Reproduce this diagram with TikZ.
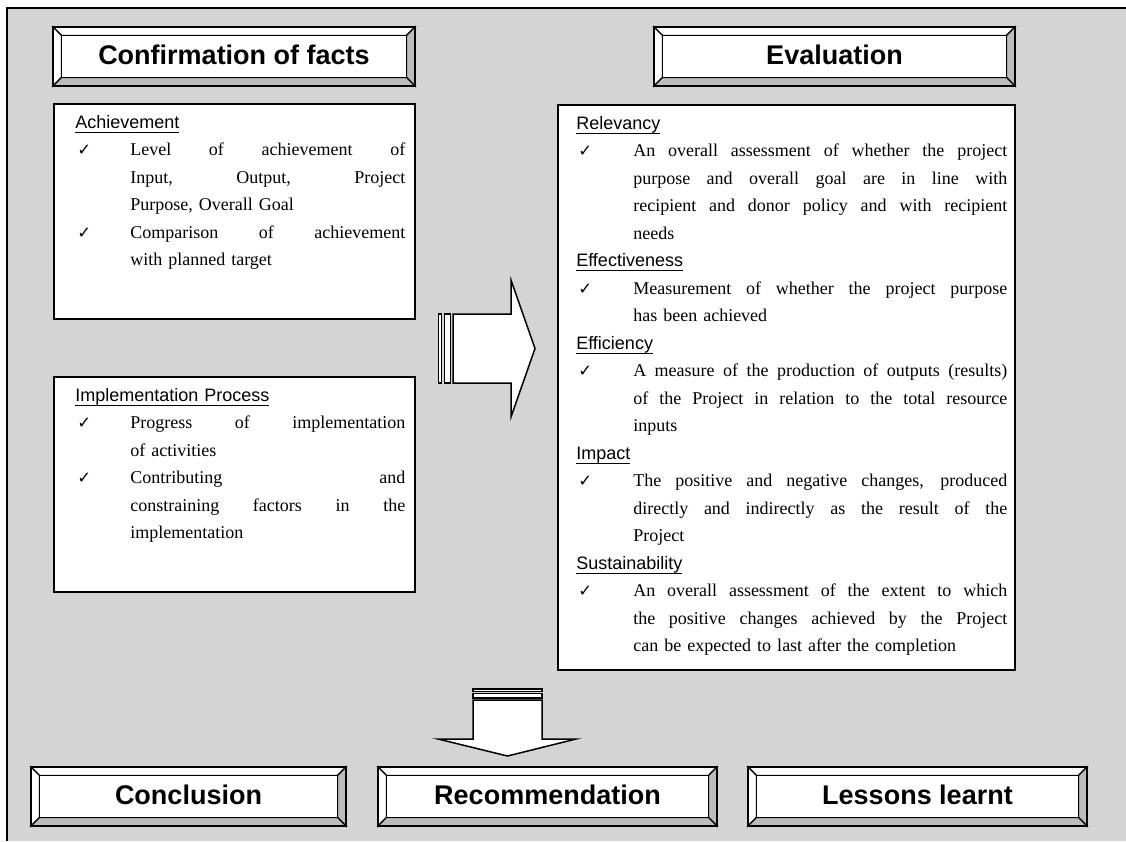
\documentclass[tikz,border=0pt]{standalone}
\usepackage{fontspec}
\setmainfont{Liberation Serif}
\newfontfamily\arial{Liberation Sans}
\newfontfamily\dejavu{DejaVu Sans}
\definecolor{bggray}{RGB}{212,212,212}
\definecolor{bevgray}{RGB}{188,188,188}
\def\myhI{36.67pt}\def\mytw{183.33pt}\def\mycI{1.33pt}
\newcommand\ulx[1]{\setbox0=\hbox{#1}\rlap{\rule[-3.1pt]{\wd0}{0.9pt}}\box0}
\newcommand\hd[1]{\noindent\strut{\arial\ulx{#1}}\par}
\newcommand\chk[1]{\noindent\strut\hbox to \myhI{\hskip\mycI{\dejavu\fontsize{11pt}{11pt}\selectfont ✓}\hss}\hbox to \mytw{\spaceskip=0pt\xspaceskip=0pt #1}\par}
\newcommand\jl[1]{\noindent\strut\hskip\myhI\hbox to \mytw{\spaceskip=0pt\xspaceskip=0pt #1}\par}
\newcommand\ls[1]{\noindent\strut\hskip\myhI #1\par}
\tikzset{
  bev/.style={draw=black, line width=0.9pt, line join=miter},
  hdr/.style={anchor=base, inner sep=0pt, font=\arial\bfseries\fontsize{18pt}{20pt}\selectfont},
  content/.style={draw=black, fill=white, line width=1pt},
  txt/.style={anchor=north west, inner sep=0pt, font=\fontsize{12pt}{18.33pt}\selectfont},
  arrowshape/.style={draw=black, fill=white, line width=1pt, line join=miter},
}
\newcommand\bevbox[6]{%
\filldraw[bev, fill=white] (#2,#3) -- (#4,#3) -- ({#4-8.5},{#3+8.5}) -- ({#2+8.5},{#3+8.5}) -- cycle;
\filldraw[bev, fill=white] (#2,#3) -- ({#2+8.5},{#3+8.5}) -- ({#2+8.5},{#5-8.5}) -- (#2,#5) -- cycle;
\filldraw[bev, fill=bevgray] (#4,#3) -- (#4,#5) -- ({#4-8.5},{#5-8.5}) -- ({#4-8.5},{#3+8.5}) -- cycle;
\filldraw[bev, fill=bevgray] (#2,#5) -- (#4,#5) -- ({#4-8.5},{#5-8.5}) -- ({#2+8.5},{#5-8.5}) -- cycle;
\filldraw[bev, fill=white] ({#2+8.5},{#3+8.5}) rectangle ({#4-8.5},{#5-8.5});
\draw[line width=1.3pt] (#2,#3) rectangle (#4,#5);
\node[hdr] (#1) at ({(#2+#4)/2},{#3+8.5+28.5}) {#6};
}
\begin{document}
\begin{tikzpicture}[x=0.66667pt, y=-0.66667pt]
\useasboundingbox (0,0) rectangle (1126,841);
% background
\fill[bggray] (7,8) rectangle (1126,841);
\draw[line width=1.4pt] (7,841) -- (7,8) -- (1126,8);

% header boxes
\bevbox{conf}{53}{27}{415}{86}{Confirmation of facts}
\bevbox{eval}{654}{27}{1015}{86}{Evaluation}
\bevbox{concl}{31}{767}{346}{826}{Conclusion}
\bevbox{recom}{378}{767}{717}{826}{Recommendation}
\bevbox{lessons}{748}{767}{1087}{826}{Lessons learnt}

% content boxes
\filldraw[content] (54,104) rectangle (415,319);
\filldraw[content] (54,377) rectangle (415,592);
\filldraw[content] (558,105) rectangle (1015,670);

\node[txt, text width=220pt] (achv) at (75,108.75) {%
\def\myhI{36.67pt}\def\mytw{183.33pt}%
\hd{Achievement}
\chk{Level of achievement of}
\jl{Input, Output, Project}
\ls{Purpose, Overall Goal}
\chk{Comparison of achievement}
\ls{with planned target}
};

\node[txt, text width=220pt] (impl) at (75,381.75) {%
\def\myhI{36.67pt}\def\mytw{183.33pt}%
\hd{Implementation Process}
\chk{Progress of implementation}
\ls{of activities}
\chk{Contributing and}
\jl{constraining factors in the}
\ls{implementation}
};

\node[txt, text width=287.33pt] (evtxt) at (576,109.75) {%
\def\myhI{38pt}\def\mytw{249.33pt}%
\hd{Relevancy}
\chk{An overall assessment of whether the project}
\jl{purpose and overall goal are in line with}
\jl{recipient and donor policy and with recipient}
\ls{needs}
\hd{Effectiveness}
\chk{Measurement of whether the project purpose}
\ls{has been achieved}
\hd{Efficiency}
\chk{A measure of the production of outputs (results)}
\jl{of the Project in relation to the total resource}
\ls{inputs}
\hd{Impact}
\chk{The positive and negative changes, produced}
\jl{directly and indirectly as the result of the}
\ls{Project}
\hd{Sustainability}
\chk{An overall assessment of the extent to which}
\jl{the positive changes achieved by the Project}
\ls{can be expected to last after the completion}
};

% right striped arrow
\filldraw[arrowshape] (438.5,314) rectangle (441.5,383);
\filldraw[arrowshape] (444.5,314) rectangle (450.5,383);
\filldraw[arrowshape] (453,314) -- (511,314) -- (511,280) -- (535,348.5) -- (511,417) -- (511,383) -- (453,383) -- cycle;

% down striped arrow
\filldraw[arrowshape] (473,689) rectangle (542,691.5);
\filldraw[arrowshape] (473,693.5) rectangle (542,698);
\filldraw[arrowshape] (473,700) -- (542,700) -- (542,739) -- (576,739) -- (507.5,756) -- (438,739) -- (473,739) -- cycle;
\end{tikzpicture}
\end{document}
